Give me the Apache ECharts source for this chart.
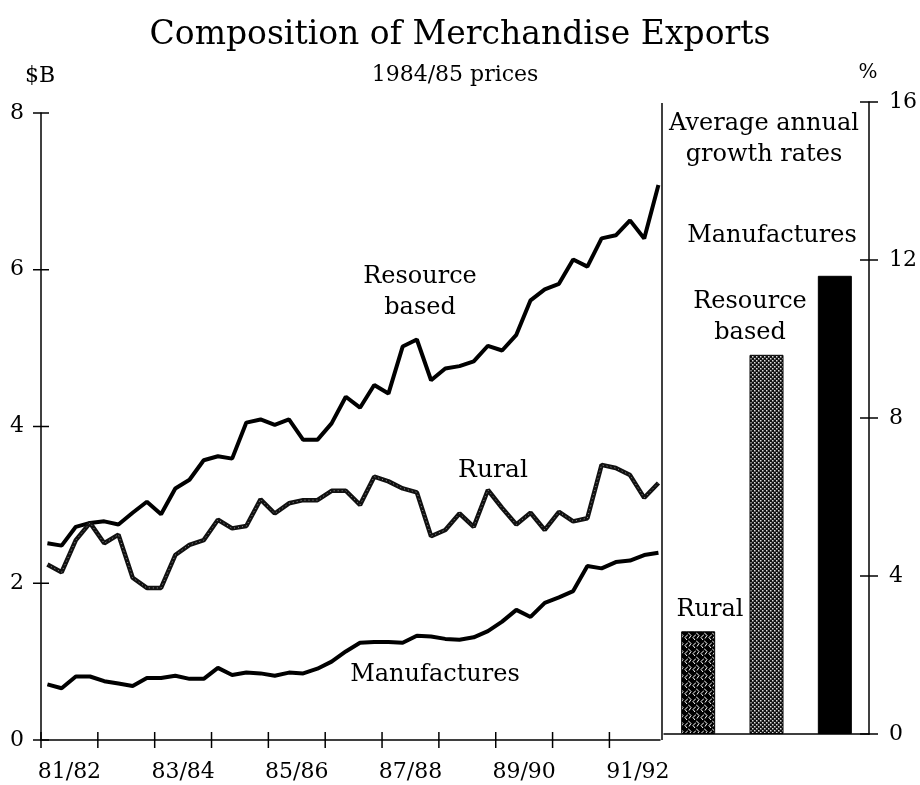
<!DOCTYPE html>
<html>
<head>
<meta charset="utf-8">
<script src="https://cdn.jsdelivr.net/npm/echarts@6/dist/echarts.min.js"></script>
<style>
  html, body { margin: 0; padding: 0; background: #fff; }
  #chart { width: 920px; height: 785px; }
</style>
</head>
<body>
<div id="chart"></div>
<script>
// quarterly values, $B at 1984/85 prices, 81/82 Q1 .. 91/92 Q4
const resourceBased = [2.51, 2.48, 2.72, 2.77, 2.79, 2.75, 2.90, 3.04, 2.88, 3.21,
  3.32, 3.57, 3.62, 3.59, 4.05, 4.09, 4.02, 4.09, 3.83, 3.83,
  4.04, 4.38, 4.24, 4.53, 4.42, 5.02, 5.11, 4.59, 4.74, 4.77,
  4.83, 5.03, 4.97, 5.17, 5.61, 5.75, 5.82, 6.13, 6.04, 6.40,
  6.44, 6.63, 6.40, 7.08]
const rural = [2.24, 2.14, 2.55, 2.77, 2.51, 2.62, 2.07, 1.94, 1.94, 2.36,
  2.49, 2.55, 2.81, 2.70, 2.73, 3.07, 2.89, 3.02, 3.06, 3.06,
  3.18, 3.18, 3.00, 3.36, 3.30, 3.21, 3.16, 2.60, 2.68, 2.89,
  2.72, 3.19, 2.96, 2.75, 2.90, 2.68, 2.91, 2.79, 2.83, 3.51,
  3.47, 3.38, 3.09, 3.28]
const manufactures = [0.71, 0.66, 0.81, 0.81, 0.75, 0.72, 0.69, 0.79, 0.79, 0.82,
  0.78, 0.78, 0.92, 0.83, 0.86, 0.85, 0.82, 0.86, 0.85, 0.91,
  1.00, 1.13, 1.24, 1.25, 1.25, 1.24, 1.33, 1.32, 1.29, 1.28,
  1.31, 1.39, 1.51, 1.66, 1.57, 1.75, 1.82, 1.90, 2.22, 2.19,
  2.27, 2.29, 2.36, 2.39]
const yearLabels = ['81/82', '83/84', '85/86', '87/88', '89/90', '91/92']
const yearTicks = [0, 4, 8, 12, 16, 20, 24, 28, 32, 36, 40]
const leftTicks = [0, 2, 4, 6, 8]
const rightTicks = [0, 4, 8, 12, 16]

// average annual growth rates, %
const growthCategories = ['Rural', 'Resource based', 'Manufactures']
const growthRates = [2.6, 9.6, 11.6]

const FONT = 'DejaVu Serif'

function makePattern (size, draw) {
  const c = document.createElement('canvas')
  c.width = size
  c.height = size
  draw(c.getContext('2d'))
  return { image: c, repeat: 'repeat' }
}

const hatch = makePattern(8, ctx => {
  ctx.fillStyle = '#000'
  ctx.fillRect(0, 0, 8, 8)
  ctx.strokeStyle = '#fff'
  ctx.lineWidth = 1
  ctx.beginPath()
  ctx.moveTo(0, 0.5); ctx.lineTo(3, 3.5); ctx.lineTo(1, 6.5)
  ctx.moveTo(8, 2.5); ctx.lineTo(5, 5.5); ctx.lineTo(7, 8)
  ctx.stroke()
})

const stipple = makePattern(4, ctx => {
  ctx.fillStyle = '#111'
  ctx.fillRect(0, 0, 4, 4)
  ctx.fillStyle = '#ddd'
  ctx.fillRect(0, 0, 1.5, 1.5)
  ctx.fillRect(2, 2, 1.5, 1.5)
})

const toPoints = arr => arr.map((v, i) => [i + 0.45, v])

const axisText = { color: '#000', fontFamily: FONT, fontSize: 22 }
const blackLine = { lineStyle: { color: '#000', width: 1.5 } }

function text (x, y, str, size) {
  return {
    type: 'text',
    x: x,
    y: y,
    style: {
      text: str,
      fill: '#000',
      font: (size || 24) + 'px "' + FONT + '"',
      align: 'center',
      verticalAlign: 'middle',
      lineHeight: 31
    }
  }
}

function tick (x1, y1, x2, y2) {
  return {
    type: 'line',
    z: 50,
    shape: { x1: x1, y1: y1, x2: x2, y2: y2 },
    style: { stroke: '#000', lineWidth: 1.5 }
  }
}

const labels = [
  text(460, 35, 'Composition of Merchandise Exports', 33),
  text(455, 75, '1984/85 prices', 22),
  text(40, 76, '$B', 22),
  text(868, 73, '%', 20),
  text(420, 292, 'Resource\nbased'),
  text(493, 470, 'Rural', 25),
  text(435, 675, 'Manufactures'),
  text(764, 139, 'Average annual\ngrowth rates'),
  text(772, 236, 'Manufactures'),
  text(750, 317, 'Resource\nbased'),
  text(710, 610, 'Rural'),
  tick(662, 103, 662, 740)
]

const chart = echarts.init(document.getElementById('chart'))
chart.setOption({
  backgroundColor: '#fff',
  animation: false,
  grid: [
    { left: 41, top: 113, width: 619, height: 627 },
    { left: 664, top: 102, width: 208, height: 632 }
  ],
  xAxis: [
    {
      type: 'value', gridIndex: 0, position: 'bottom', min: 0, max: 43.56, interval: 4,
      axisLine: blackLine,
      axisTick: { show: false },
      axisLabel: { show: false },
      splitLine: { show: false }
    },
    {
      type: 'value', gridIndex: 0, position: 'bottom', min: 0, max: 43.56, interval: 2,
      axisLine: { show: false },
      axisTick: { show: false },
      axisLabel: Object.assign({
        margin: 21,
        showMaxLabel: false,
        formatter: v => (v % 8 === 2 ? yearLabels[(v - 2) / 8] : '')
      }, axisText),
      splitLine: { show: false }
    },
    {
      type: 'category', gridIndex: 1, position: 'bottom', data: growthCategories,
      axisLine: blackLine,
      axisTick: { show: false },
      axisLabel: { show: false }
    }
  ],
  yAxis: [
    {
      type: 'value', gridIndex: 0, min: 0, max: 8, interval: 2, position: 'left',
      axisLine: Object.assign({ show: true }, blackLine),
      axisTick: { show: false },
      axisLabel: Object.assign({ margin: 17 }, axisText),
      splitLine: { show: false }
    },
    {
      type: 'value', gridIndex: 1, min: 0, max: 16, interval: 4, position: 'right',
      axisLine: Object.assign({ show: true }, blackLine),
      axisTick: { show: false },
      axisLabel: Object.assign({ margin: 20 }, axisText),
      splitLine: { show: false }
    }
  ],
  series: [
    {
      name: 'Resource based', type: 'line', xAxisIndex: 0, yAxisIndex: 0,
      data: toPoints(resourceBased), showSymbol: false,
      lineStyle: { color: '#000', width: 4 }
    },
    {
      name: 'Rural', type: 'line', xAxisIndex: 0, yAxisIndex: 0,
      data: toPoints(rural), showSymbol: false,
      lineStyle: { color: '#111', width: 4.5 }
    },
    {
      name: 'Rural texture', type: 'line', xAxisIndex: 0, yAxisIndex: 0,
      data: toPoints(rural), showSymbol: false,
      lineStyle: { color: '#999', width: 1, type: [1, 3] }
    },
    {
      name: 'Manufactures', type: 'line', xAxisIndex: 0, yAxisIndex: 0,
      data: toPoints(manufactures), showSymbol: false,
      lineStyle: { color: '#000', width: 4 }
    },
    {
      name: 'Growth', type: 'bar', xAxisIndex: 2, yAxisIndex: 1,
      barWidth: 34,
      data: growthRates.map((v, i) => ({
        value: v,
        itemStyle: { color: [hatch, stipple, '#000'][i], borderColor: '#000', borderWidth: 1 }
      }))
    }
  ],
  graphic: labels
})

// crossing ticks, placed through the axes' own scales
const rectL = chart.getModel().getComponent('grid', 0).coordinateSystem.getRect()
const rectR = chart.getModel().getComponent('grid', 1).coordinateSystem.getRect()
const baseY = rectL.y + rectL.height
const rightX = rectR.x + rectR.width
const ticks = []
yearTicks.forEach(v => {
  const x = chart.convertToPixel({ xAxisIndex: 0 }, v)
  ticks.push(tick(x, baseY - 8, x, baseY + 8))
})
leftTicks.forEach(v => {
  const y = chart.convertToPixel({ yAxisIndex: 0 }, v)
  ticks.push(tick(rectL.x - 8, y, rectL.x + 8, y))
})
rightTicks.forEach(v => {
  const y = chart.convertToPixel({ yAxisIndex: 1 }, v)
  ticks.push(tick(rightX - 9, y, rightX + 9, y))
})
chart.setOption({ graphic: labels.concat(ticks) })
</script>
</body>
</html>
